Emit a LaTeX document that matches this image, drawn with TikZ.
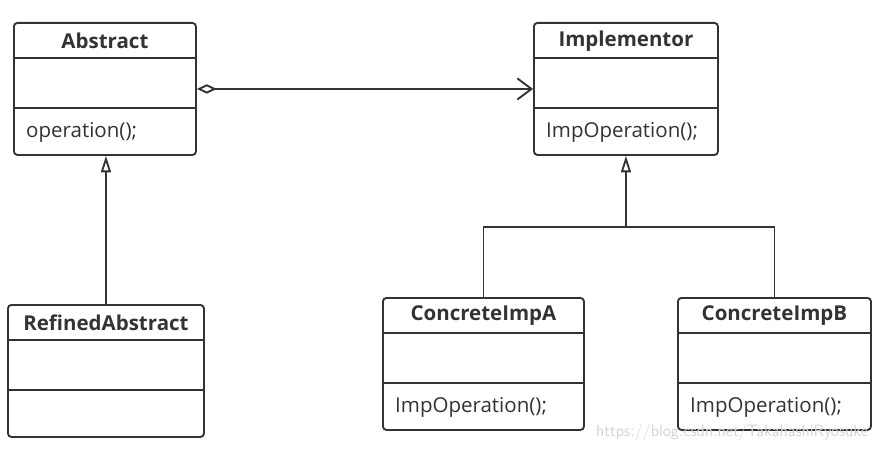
\documentclass[tikz,border=0pt]{standalone}
\usepackage{fontspec}
\setmainfont{Open Sans}
\usepackage{xcolor}
\usetikzlibrary{arrows.meta,calc}
\definecolor{umlgray}{HTML}{333333}

\begin{document}
\begin{tikzpicture}[x=0.03cm,y=-0.03cm,
    classbox/.style={draw=umlgray, line width=1.6pt, rounded corners=3pt, minimum height=3.96cm, anchor=north west, inner sep=0pt},
    classname/.style={font=\fontsize{17.5}{19}\selectfont\bfseries, text=umlgray},
    method/.style={font=\fontsize{17.5}{19}\selectfont, text=umlgray, anchor=west, inner sep=0pt},
    umlline/.style={draw=umlgray, line width=1.6pt}]
\useasboundingbox (0,0) rectangle (881,450);

    \node[classbox, minimum width=5.46cm] (abs) at (13,22) {};
    \node[classbox, minimum width=5.52cm] (impl) at (533,22) {};
    \node[classbox, minimum width=5.88cm] (ref) at (7,304) {};
    \node[classbox, minimum width=6.03cm] (ca) at (382,297) {};
    \node[classbox, minimum width=5.79cm] (cb) at (677,297) {};

    % class names
    \node[classname] (absname) at ($(abs.north)+(0,19)$) {Abstract};
    \node[classname] (implname) at ($(impl.north)+(0,19)$) {Implementor};
    \node[classname] (refname) at ($(ref.north)+(0,19)$) {RefinedAbstract};
    \node[classname] (caname) at ($(ca.north)+(0,19)$) {ConcreteImpA};
    \node[classname] (cbname) at ($(cb.north)+(0,19)$) {ConcreteImpB};

    % methods
    \node[method] (absop) at ($(abs.north west)+(13,110)$) {operation();};
    \node[method] (implop) at ($(impl.north west)+(13,110)$) {ImpOperation();};
    \node[method] (caop) at ($(ca.north west)+(13,110)$) {ImpOperation();};
    \node[method] (cbop) at ($(cb.north west)+(13,110)$) {ImpOperation();};

    % compartments
    \foreach \c in {abs,impl,ref,ca,cb} {
      \draw[umlline] ($(\c.north west)+(0,36)$) -- ($(\c.north east)+(0,36)$);
      \draw[umlline] ($(\c.north west)+(0,86)$) -- ($(\c.north east)+(0,86)$);
    }

    % draw the arrows
    \draw[umlline, {Diamond[open,length=17pt,width=8pt]}-{Straight Barb[length=12pt,width=18pt]}] (abs.east) -- (impl.west);
    \draw[umlline, -{Triangle[open,length=14pt,width=8.5pt]}] (ref.north) -- (ref.north |- abs.south);
    \coordinate (bus) at (impl.south |- 0,227);
    \draw[umlline] (ca.north) |- (bus) -| (cb.north);
    \draw[umlline, -{Triangle[open,length=14pt,width=8.5pt]}] (bus) -- (impl.south);

    \node[font=\fontsize{14}{15}\selectfont\sffamily, text=gray!35, anchor=east] (mark) at (872,432) {https://blog.csdn.net/TakahashiRyosuke};

\end{tikzpicture}
\end{document}
